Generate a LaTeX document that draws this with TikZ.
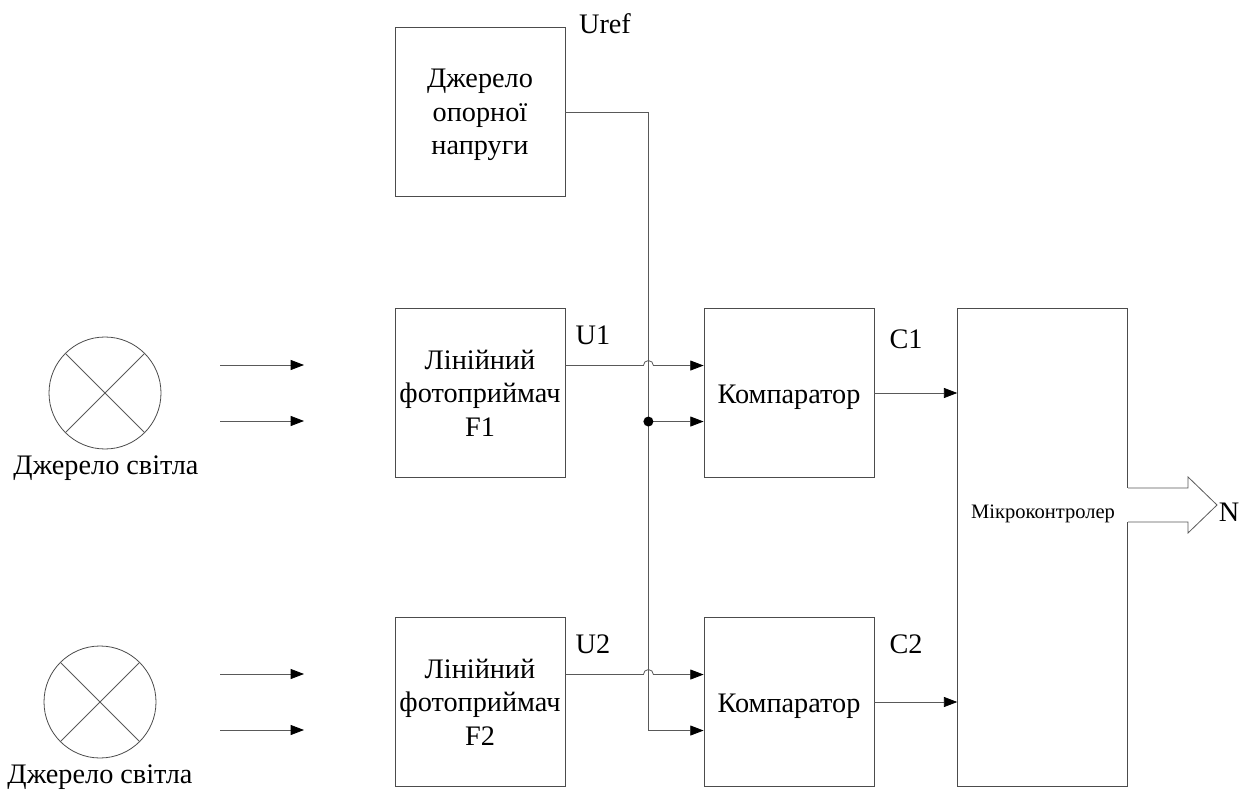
\documentclass[tikz,border=0pt]{standalone}
\usepackage{fontspec}
\setmainfont{Liberation Serif}
\usetikzlibrary{positioning, arrows.meta, calc}
\tikzstyle{block} = [rectangle, minimum width=127.5pt, minimum height=127pt, inner sep=0pt, text centered, draw=black!70, line width=0.6pt, font=\fontsize{21.2}{25}\selectfont, align=center]
\tikzstyle{drop} = [execute at begin node={\rule{0pt}{#1}}]
\tikzstyle{lamp} = [circle, minimum size=84pt, inner sep=0pt, draw=black!70, line width=0.6pt]
\tikzstyle{caption} = [inner sep=0pt, font=\fontsize{21.2}{25}\selectfont]
\tikzstyle{wire} = [draw=black!65, line width=0.6pt]
\tikzstyle{arrow} = [wire, -{Triangle[length=10pt,width=7.5pt,color=black]}]

\begin{document}
\begin{tikzpicture}[x=0.75pt, y=-0.75pt, node distance=231.75pt]
    \useasboundingbox (0,0) rectangle (1256,791);

        % Blocks
        \node (ref) [block] at (480,112) {};
        \node (reftext) [caption, align=center] at (480,115) {Джерело\\опорної\\напруги};
        \node (f1) [block, below of=ref, yshift=21pt] {Лінійний\\фотоприймач\\F1};
        \node (f2) [block, below of=f1] {Лінійний\\фотоприймач\\F2};
        \node (comp1) [block, drop=21pt, right of=f1] {Компаратор};
        \node (comp2) [block, drop=21pt, right of=f2] {Компаратор};
        \node (mcu) [block, right of=comp1, xshift=-41.5pt, yshift=-116pt, minimum height=358.5pt] {};
        \node (mcutext) [caption, font=\fontsize{15.4}{18}\selectfont] at (1043,514) {Мікроконтролер};

        % Light sources
        \node (lamp1) [lamp] at (105,393) {};
        \node (lamp2) [lamp] at (100,702) {};
        \draw [wire] (lamp1.north west) -- (lamp1.south east);
        \draw [wire] (lamp1.north east) -- (lamp1.south west);
        \draw [wire] (lamp2.north west) -- (lamp2.south east);
        \draw [wire] (lamp2.north east) -- (lamp2.south west);
        \node (lamp1text) [caption] at (106,468) {Джерело світла};
        \node (lamp2text) [caption] at (100,777) {Джерело світла};

        % Labels
        \node (urefl) [caption] at (605,24) {Uref};
        \node (u1l) [caption] at (593,335) {U1};
        \node (u2l) [caption] at (593,644) {U2};
        \node (c1l) [caption] at (906,339) {C1};
        \node (c2l) [caption] at (906,644) {C2};
        \node (nl) [caption] at (1229,512) {N};

        % Light beams
        \coordinate (beam1a) at (220,365);
        \coordinate (beam1b) at (220,421);
        \coordinate (beam2a) at (220,674);
        \coordinate (beam2b) at (220,730);
        \draw [arrow] (beam1a) -- ++(63pt,0pt);
        \draw [arrow] (beam1b) -- ++(63pt,0pt);
        \draw [arrow] (beam2a) -- ++(63pt,0pt);
        \draw [arrow] (beam2b) -- ++(63pt,0pt);

        % Reference bus
        \coordinate (bus) at ([xshift=62.25pt]ref.east);
        \coordinate (hop1) at ($(bus |- f1.east)+(0pt,20.6pt)$);
        \coordinate (hop2) at ($(bus |- f2.east)+(0pt,20.6pt)$);
        \coordinate (tap1) at ($(bus |- comp1.west)+(0pt,-21.4pt)$);
        \coordinate (tap2) at ($(bus |- comp2.west)+(0pt,-21.4pt)$);
        \draw [arrow] (ref.east) -- (bus) -- (tap2) -- (tap2 -| comp2.west);
        \draw [arrow] (tap1) -- (tap1 -| comp1.west);
        \fill [black] (tap1) circle (3.75pt);

        % Photodetector outputs
        \draw [arrow] (hop1 -| f1.east) -- ([xshift=-3.75pt]hop1) arc (180:0:3.75pt) -- (hop1 -| comp1.west);
        \draw [arrow] (hop2 -| f2.east) -- ([xshift=-3.75pt]hop2) arc (180:0:3.75pt) -- (hop2 -| comp2.west);

        % Comparator outputs
        \draw [arrow] (comp1.east) -- (comp1.east -| mcu.west);
        \draw [arrow] (comp2.east) -- (comp2.east -| mcu.west);

        % Output arrow
        \coordinate (outa) at (mcu.east |- 0,488);
        \coordinate (outb) at (mcu.east |- 0,522);
        \fill [white] ($(outa)+(-0.5pt,0pt)$) rectangle ($(outb)+(1pt,0pt)$);
        \draw [wire] (outa) -- ++(45pt,0pt) -- ++(0pt,8.25pt) -- (1217,505) -- (1188,533) -- ++(0pt,8.25pt) -- (outb);
    \end{tikzpicture}
\end{document}
